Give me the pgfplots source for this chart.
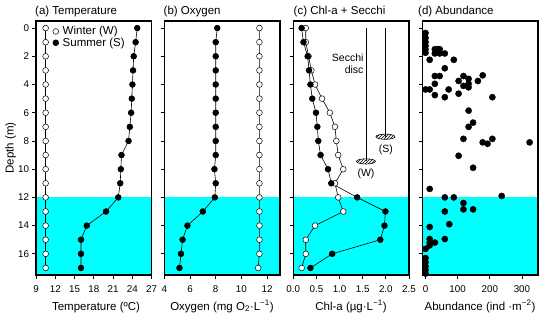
\documentclass[border=0pt]{standalone}
\usepackage{pgfplots}
\pgfplotsset{compat=1.18}
\usepackage{fontspec}
\setmainfont{Liberation Sans}
\usetikzlibrary{patterns}
\definecolor{aqua}{RGB}{0,255,255}

\pgfplotstableread{
d T
0 10.5
1 10.5
2 10.5
3 10.5
4 10.5
5 10.5
6 10.5
7 10.5
8 10.5
9 10.5
10 10.5
11 10.5
12 10.5
13 10.5
14 10.5
15 10.5
16 10.5
17 10.5
}\tempW
\pgfplotstableread{
d T
0 24.75
1 24.5
2 24.2
3 24.1
4 24.0
5 23.9
6 23.8
7 23.6
8 23.4
9 22.3
10 22.2
11 22.1
12 21.8
13 19.9
14 16.9
15 16.0
16 16.0
17 16.0
}\tempS
\pgfplotstableread{
d O
0 11.4
1 11.4
2 11.4
3 11.4
4 11.4
5 11.4
6 11.4
7 11.4
8 11.4
9 11.4
10 11.4
11 11.4
12 11.4
13 11.4
14 11.4
15 11.4
16 11.4
17 11.3
}\oxyW
\pgfplotstableread{
d O
0 8.12
1 8.0
2 8.0
3 8.0
4 8.0
5 8.0
6 8.0
7 8.0
8 8.0
9 8.0
10 7.9
11 8.0
12 7.93
13 7.0
14 5.8
15 5.42
16 5.3
17 5.18
}\oxyS
\pgfplotstableread{
d C
0 0.27
1 0.27
2 0.33
3 0.39
4 0.47
5 0.62
6 0.79
7 0.90
8 0.93
9 0.97
10 1.08
11 0.90
12 0.97
13 1.08
14 0.47
15 0.27
16 0.27
17 0.18
}\chlW
\pgfplotstableread{
d C
0 0.18
1 0.22
2 0.31
3 0.34
4 0.37
5 0.41
6 0.49
7 0.52
8 0.54
9 0.59
10 0.75
11 0.82
12 1.38
13 1.99
14 1.97
15 1.88
16 0.84
17 0.37
}\chlS
\pgfplotstableread{
a d
0 0.35
0 0.7
0 1.0
0 1.25
0 1.5
0 1.75
29 1.5
38 1.5
44 1.5
29 1.8
44 1.8
60 1.8
13 2.25
88 2.25
60 2.85
29 3.4
44 3.4
118 3.4
178 3.35
103 3.75
134 3.6
134 3.95
163 3.75
118 4.1
134 4.2
29 3.95
0 4.35
13 4.35
72 4.35
103 4.65
29 4.75
60 4.9
208 4.9
134 5.85
148 6.7
134 7.0
118 7.85
178 8.1
193 8.2
208 7.85
324 8.1
103 9.05
148 9.9
13 11.4
237 11.9
60 12.0
88 12.0
118 12.4
118 12.85
148 12.85
60 13.0
74 13.9
13 14.1
60 14.95
13 14.95
13 15.2
29 15.2
13 15.4
0 15.65
0 16.3
0 16.6
0 16.9
0 17.15
0 17.4
}\abund

\pgfplotsset{
  panel/.style={
    scale only axis, width=115.7pt, height=254pt, anchor=south west,
    y dir=reverse, ymin=-0.5, ymax=17.5, ytick={0,2,...,16},
    tick align=outside, xtick pos=bottom, ytick pos=left,
    axis line style={line width=1.1pt, black},
    major tick length=3.5pt,
    tick style={line width=0.8pt, black},
    tick label style={font=\fontsize{9.8}{12}\selectfont},
    xticklabel style={yshift=-4pt},
    /pgf/number format/assume math mode=true,
    axis on top, clip=false,
  },
  openser/.style={black, line width=0.6pt, mark=*, mark size=2.9pt,
    mark options={fill=white, draw=black, line width=0.5pt}},
  fillser/.style={black, line width=0.6pt, mark=*, mark size=2.9pt,
    mark options={fill=black, draw=black}},
}

\begin{document}
\begin{tikzpicture}
\useasboundingbox (0,0) rectangle (550pt,322pt);

% (a) Temperature
\begin{axis}[panel, at={(36pt,47pt)}, xmin=9, xmax=27, xtick={9,12,...,27},
  legend style={draw=none, fill=none, at={(0.135,0.985)}, anchor=north west,
    font=\fontsize{11.5}{13}\selectfont, inner sep=0pt, row sep=-1.5pt,
    nodes={inner sep=1.5pt}},
  legend cell align=left,
  legend image code/.code={\node[draw=none, fill=none, inner sep=0pt, minimum width=0.33cm, minimum height=1pt, anchor=west] at (0cm,0cm) {}; \path[#1] plot coordinates {(0.15cm,0cm)};}]
\fill[aqua] (axis cs:9,12) rectangle (axis cs:27,17.5);
\addplot[openser] table[x=T, y=d] {\tempW};
\addplot[fillser] table[x=T, y=d] {\tempS};
\addlegendimage{mark=*, mark size=2pt, mark options={fill=white, draw=black, line width=0.5pt}}
\addlegendentry{Winter (W)}
\addlegendimage{mark=*, mark size=2pt, mark options={fill=black, draw=black}}
\addlegendentry{Summer (S)}
\end{axis}

% (b) Oxygen
\begin{axis}[panel, at={(164.3pt,47pt)}, xmin=4, xmax=13, xtick={4,6,...,12},
  yticklabels={}]
\fill[aqua] (axis cs:4,12) rectangle (axis cs:13,17.5);
\addplot[openser] table[x=O, y=d] {\oxyW};
\addplot[fillser] table[x=O, y=d] {\oxyS};
\end{axis}

% (c) Chl-a + Secchi
\begin{axis}[panel, at={(293.3pt,47pt)}, xmin=0, xmax=2.5, xtick={0,0.5,...,2.5},
  xticklabel style={/pgf/number format/.cd, fixed, fixed zerofill, precision=1},
  yticklabels={}]
\fill[aqua] (axis cs:0,12) rectangle (axis cs:2.5,17.5);
\addplot[openser] table[x=C, y=d] {\chlW};
\addplot[fillser] table[x=C, y=d] {\chlS};
\addplot[black, line width=0.6pt] coordinates {(1.57,0) (1.57,9.45)};
\addplot[black, line width=0.6pt] coordinates {(1.99,0) (1.99,7.7)};
\draw[black, line width=0.6pt, pattern=north east lines] (axis cs:1.57,9.45) ellipse [x radius=9.5pt, y radius=2.6pt];
\draw[black, line width=0.6pt, pattern=north east lines] (axis cs:1.99,7.7) ellipse [x radius=9.5pt, y radius=2.6pt];
\node[font=\fontsize{10.5}{12}\selectfont, anchor=east, align=right, inner sep=0pt]
  at (axis cs:1.52,2.5) {Secchi\\disc};
\node[font=\fontsize{10.5}{12}\selectfont, inner sep=0pt] at (axis cs:1.57,10.35) {(W)};
\node[font=\fontsize{10.5}{12}\selectfont, inner sep=0pt] at (axis cs:2.0,8.6) {(S)};
\end{axis}

% (d) Abundance
\begin{axis}[panel, at={(422.3pt,47pt)}, xmin=-10, xmax=350, xtick={0,100,200,300},
  yticklabels={}]
\fill[aqua] (axis cs:-10,12) rectangle (axis cs:350,17.5);
\addplot[only marks, mark=*, mark size=3.1pt, mark options={fill=black, draw=black}]
  table[x=a, y=d] {\abund};
\end{axis}

% titles
\node[anchor=base west, inner sep=0pt, font=\fontsize{11.5}{13}\selectfont] at (35pt,307.3pt) {(a) Temperature};
\node[anchor=base west, inner sep=0pt, font=\fontsize{11.5}{13}\selectfont] at (163.5pt,307.3pt) {(b) Oxygen};
\node[anchor=base west, inner sep=0pt, font=\fontsize{11.5}{13}\selectfont] at (293.5pt,307.3pt) {(c) Chl-a + Secchi};
\node[anchor=base west, inner sep=0pt, font=\fontsize{11.5}{13}\selectfont] at (418pt,307.3pt) {(d) Abundance};

% axis labels
\node[anchor=base, inner sep=0pt, font=\fontsize{11.5}{13}\selectfont] at (96pt,12pt) {Temperature (ºC)};
\node[anchor=base, inner sep=0pt, font=\fontsize{11.5}{13}\selectfont] at (222pt,12pt) {Oxygen (mg O\textsubscript{2}·L\textsuperscript{−1})};
\node[anchor=base, inner sep=0pt, font=\fontsize{11.5}{13}\selectfont] at (351pt,12pt) {Chl-a (µg·L\textsuperscript{−1})};
\node[anchor=base, inner sep=0pt, font=\fontsize{11.5}{13}\selectfont] at (480pt,12pt) {Abundance (ind ·m\textsuperscript{−2})};
\node[anchor=base, rotate=90, inner sep=0pt, font=\fontsize{11.5}{13}\selectfont] at (13.5pt,174pt) {Depth (m)};
\end{tikzpicture}
\end{document}
